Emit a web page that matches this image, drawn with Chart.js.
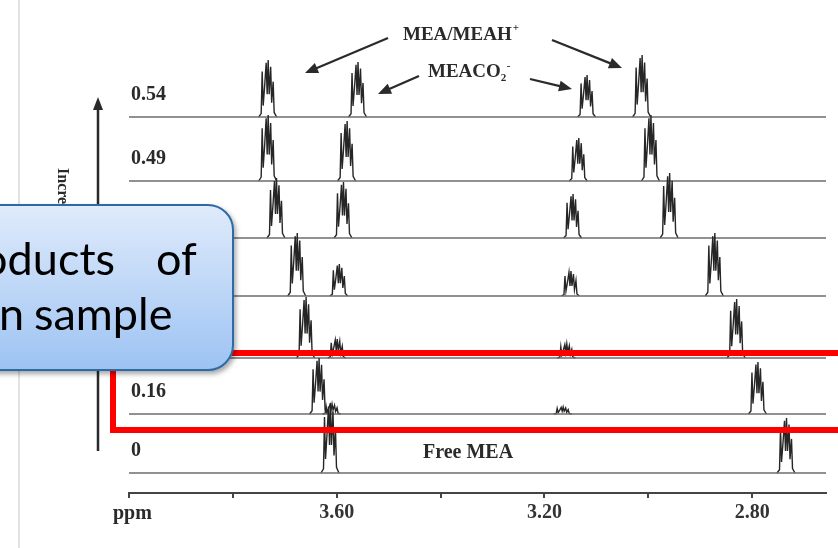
<!DOCTYPE html>
<html>
<head>
<meta charset="utf-8">
<script src="https://cdn.jsdelivr.net/npm/chart.js@4.4.0/dist/chart.umd.min.js"></script>
<style>
  html, body { margin: 0; padding: 0; background: #fff; }
  #wrap { position: relative; width: 838px; height: 548px; overflow: hidden; }
  #overlay { position: absolute; left: 0; top: 0; }
</style>
</head>
<body>
<div id="wrap">
  <canvas id="nmrChart" width="838" height="548"></canvas>
  <svg id="overlay" width="838" height="548">
    <defs>
      <linearGradient id="calloutFill" x1="0" y1="0" x2="0" y2="1">
        <stop offset="0" stop-color="#e0ebfb"/>
        <stop offset="1" stop-color="#9dc3f3"/>
      </linearGradient>
      <filter id="shadow" x="-20%" y="-20%" width="140%" height="140%">
        <feDropShadow dx="2" dy="3" stdDeviation="2.5" flood-color="#000" flood-opacity="0.35"/>
      </filter>
    </defs>
    <line x1="19" y1="0" x2="19" y2="548" stroke="#d8d8d8" stroke-width="1.5"/>
    <!-- highlight round the 0.16 spectrum -->
    <rect x="113" y="353" width="760" height="77" fill="none" stroke="#ff0000" stroke-width="6"/>
    <!-- callout -->
    <rect x="-60" y="205" width="293" height="165" rx="25" fill="url(#calloutFill)" stroke="#2d6aa6" stroke-width="2" filter="url(#shadow)"/>
    <g font-family="Lato" font-size="45" fill="#000">
      <text x="115" y="275" text-anchor="end">products</text>
      <text x="156" y="275">of</text>
      <text x="24" y="330" text-anchor="end">in</text>
      <text x="34" y="330">sample</text>
    </g>
  </svg>
</div>
<script>
// CO2 loading of each spectrum, bottom to top
var loadings = ['0', '0.16', '0.25', '0.35', '0.43', '0.49', '0.54'];

// chemical shift (ppm) and height of each multiplet, bottom to top
var meaOShift   = [3.613, 3.635, 3.660, 3.677, 3.717, 3.733, 3.733];
var meaOHeight  = [70, 56, 61, 63, 60, 66, 57];
var carbOShift  = [null, 3.610, 3.600, 3.596, 3.588, 3.581, 3.560];
var carbOHeight = [0, 10, 19, 32, 56, 60, 55];
var carbNShift  = [null, 3.165, 3.158, 3.150, 3.146, 3.135, 3.119];
var carbNHeight = [0, 7, 14, 25, 44, 43, 42];
var meaNShift   = [2.735, 2.790, 2.831, 2.873, 2.960, 2.996, 3.013];
var meaNHeight  = [55, 52, 59, 63, 65, 66, 62];

// axis ticks
var ppmTicks  = [4.0, 3.8, 3.6, 3.4, 3.2, 3.0, 2.8];
var ppmLabels = ['', '', '3.60', '', '3.20', '', '2.80'];

// layout: vertical offset of each spectrum and shape of a multiplet
var rowBase = [20, 79, 135, 197, 255, 312, 376];
var ppmMin = 2.658, ppmMax = 4.0;
var ppmPerPx = 1 / 520;
var glyph = [[-9, 0], [-6.5, 0.06], [-5.5, 0.8], [-4.5, 0.2], [-3, 0.55], [-1.5, 0.95], [-0.5, 0.4],
             [0.5, 1], [1.5, 0.4], [3, 0.88], [4, 0.25], [5.5, 0.62], [6.5, 0.08], [9, 0]];

function peakPoints(shift, height, base) {
    return glyph.map(function (g) {
        return { x: shift - g[0] * ppmPerPx, y: base + g[1] * height };
    });
}

var datasets = [];
loadings.forEach(function (l, i) {
    datasets.push({
        data: [{ x: ppmMax, y: rowBase[i] }, { x: ppmMin, y: rowBase[i] }],
        borderColor: '#6c6c6c', borderWidth: 1.5
    });
    [[meaOShift, meaOHeight], [carbOShift, carbOHeight], [carbNShift, carbNHeight], [meaNShift, meaNHeight]]
        .forEach(function (p) {
            if (p[0][i] === null) return;
            datasets.push({
                data: peakPoints(p[0][i], p[1][i], rowBase[i]),
                borderColor: '#262626', borderWidth: 1.4
            });
        });
});

function arrow(ctx, x1, y1, x2, y2, len, half) {
    var a = Math.atan2(y2 - y1, x2 - x1);
    ctx.beginPath();
    ctx.moveTo(x1, y1);
    ctx.lineTo(x2 - Math.cos(a) * len * 0.8, y2 - Math.sin(a) * len * 0.8);
    ctx.stroke();
    ctx.beginPath();
    ctx.moveTo(x2, y2);
    ctx.lineTo(x2 - Math.cos(a) * len - Math.sin(a) * half, y2 - Math.sin(a) * len + Math.cos(a) * half);
    ctx.lineTo(x2 - Math.cos(a) * len + Math.sin(a) * half, y2 - Math.sin(a) * len - Math.cos(a) * half);
    ctx.closePath();
    ctx.fill();
}

var annotations = {
    id: 'annotations',
    afterDraw: function (chart) {
        var ctx = chart.ctx, y = chart.scales.y, area = chart.chartArea;
        ctx.save();
        ctx.fillStyle = '#2a2a2a';
        ctx.strokeStyle = '#2a2a2a';
        ctx.textBaseline = 'alphabetic';
        ctx.font = 'bold 20px "Liberation Serif"';
        loadings.forEach(function (t, i) {
            ctx.fillText(t, area.left + 2, y.getPixelForValue(rowBase[i]) - 17);
        });
        ctx.fillText('ppm', 113, 519);
        ctx.fillText('Free MEA', 423, 458);

        // peak labels
        ctx.font = 'bold 19px "Liberation Serif"';
        ctx.fillText('MEA/MEAH', 403, 40);
        var w = ctx.measureText('MEA/MEAH').width;
        ctx.font = 'bold 11px "Liberation Serif"';
        ctx.fillText('+', 403 + w + 1, 31);
        ctx.font = 'bold 19px "Liberation Serif"';
        ctx.fillText('MEACO', 428, 77);
        w = ctx.measureText('MEACO').width;
        ctx.font = 'bold 11px "Liberation Serif"';
        ctx.fillText('2', 428 + w, 81);
        ctx.fillText('-', 428 + w + 6, 69);

        ctx.lineWidth = 2.2;
        arrow(ctx, 388, 38, 305, 73, 13, 5.5);
        arrow(ctx, 552, 40, 622, 68, 13, 5.5);
        arrow(ctx, 419, 76, 378, 94, 13, 5.5);
        arrow(ctx, 530, 79, 572, 89, 13, 5.5);

        // increasing loading arrow
        ctx.lineWidth = 2.5;
        arrow(ctx, 98, 451, 98, 97, 13, 5);
        ctx.translate(58, 168);
        ctx.rotate(Math.PI / 2);
        ctx.font = 'bold 16px "Liberation Serif"';
        ctx.fillText('Increasing CO2 loading', 0, 0);
        ctx.restore();
    }
};

var ctx = document.getElementById('nmrChart').getContext('2d');
var nmrChart = new Chart(ctx, {
    type: 'scatter',
    data: { datasets: datasets },
    options: {
        responsive: false,
        animation: false,
        devicePixelRatio: 1,
        showLine: true,
        elements: { point: { radius: 0 }, line: { tension: 0 } },
        layout: { padding: { left: 129, right: 12, top: 0, bottom: 0 } },
        plugins: { legend: { display: false }, tooltip: { enabled: false } },
        scales: {
            x: {
                type: 'linear', reverse: true, min: ppmMin, max: ppmMax,
                afterBuildTicks: function (s) { s.ticks = ppmTicks.map(function (v) { return { value: v }; }); },
                afterFit: function (s) { s.height = 55; },
                ticks: {
                    autoSkip: false, maxRotation: 0, padding: 3, color: '#333',
                    font: { family: 'Liberation Serif', size: 20, weight: 'bold' },
                    callback: function (v, i) { return ppmLabels[i]; }
                },
                grid: { display: true, drawOnChartArea: false, drawTicks: true, tickLength: 5, color: '#444', lineWidth: 2 },
                border: { display: true, color: '#444', width: 2 }
            },
            y: { display: false, min: 0, max: 493 }
        }
    },
    plugins: [annotations]
});
</script>
</body>
</html>
